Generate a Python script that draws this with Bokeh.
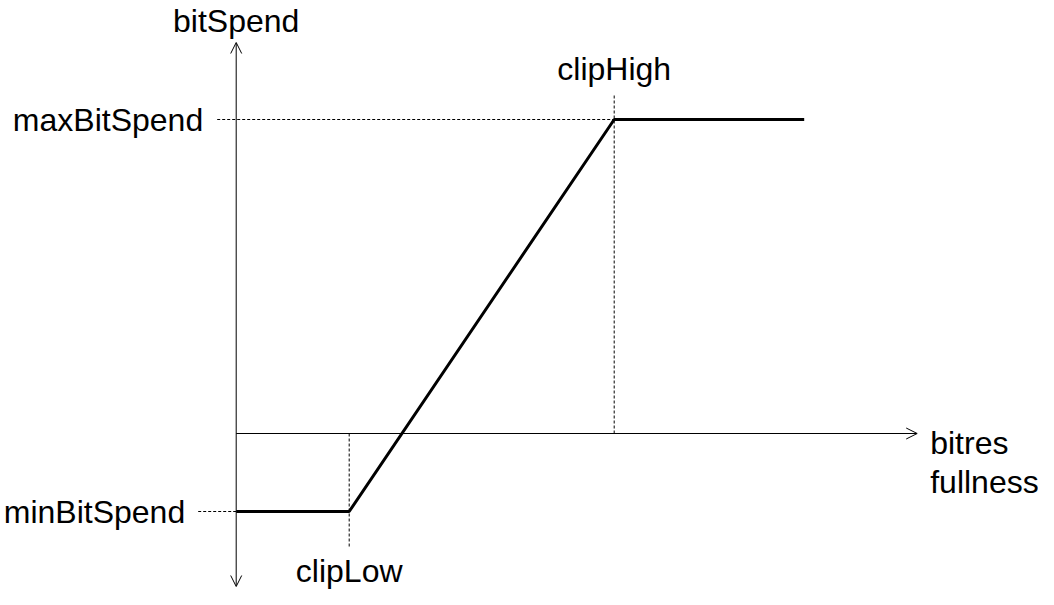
from bokeh.plotting import figure
from bokeh.models import Range1d, Arrow, OpenHead, ColumnDataSource
from bokeh.core.properties import value
from bokeh.embed import file_html
from bokeh.resources import INLINE

# ---- data (diagram units, origin at the axes crossing) ----
clip_names = ["clipLow", "clipHigh"]
clip_x = [113, 378]
level_names = ["minBitSpend", "maxBitSpend"]
level_y = [-78, 314]
curve_end_x = 568
curve_x = [0, clip_x[0], clip_x[1], curve_end_x]
curve_y = [level_y[0], level_y[0], level_y[1], level_y[1]]
y_axis_label = "bitSpend"
x_axis_label = ["bitres", "fullness"]
y_axis_span = [-153, 391]
x_axis_span = [0, 681]

FONT = value("Liberation Sans")
FS = "32px"

p = figure(width=1038, height=589, output_backend="svg", toolbar_location=None,
           x_range=Range1d(-235.7, 802.3), y_range=Range1d(-156, 433),
           min_border=0, min_border_left=0, min_border_right=0,
           min_border_top=0, min_border_bottom=0)
p.axis.visible = False
p.grid.visible = False
p.outline_line_color = None
p.background_fill_color = "white"

# axes with arrows
p.add_layout(Arrow(x_start=0, y_start=y_axis_span[0], x_end=0, y_end=y_axis_span[1],
                   line_width=1, line_color="black",
                   start=OpenHead(size=11, line_width=1), end=OpenHead(size=11, line_width=1)))
p.add_layout(Arrow(x_start=x_axis_span[0], y_start=0, x_end=x_axis_span[1], y_end=0,
                   line_width=1, line_color="black",
                   end=OpenHead(size=11, line_width=1)))

# dotted guides
dash = "3 2"
p.line([-19, clip_x[1]], [level_y[1], level_y[1]], line_color="black", line_width=1, line_dash=dash)
p.line([-38, 0], [level_y[0], level_y[0]], line_color="black", line_width=1, line_dash=dash)
p.line([clip_x[0], clip_x[0]], [0, -114], line_color="black", line_width=1, line_dash=dash)
p.line([clip_x[1], clip_x[1]], [0, 339], line_color="black", line_width=1, line_dash=dash)

# curve
p.line(curve_x, curve_y, line_color="black", line_width=3)

# level labels
lsrc = ColumnDataSource(dict(x=[0, 0], y=level_y, t=level_names, xo=[-51, -33]))
p.text(x="x", y="y", text="t", x_offset="xo", source=lsrc,
       text_align="right", text_baseline="middle",
       text_font=FONT, text_font_size=FS, text_color="black")

# clip labels
csrc = ColumnDataSource(dict(x=clip_x, y=[-137, 365], t=clip_names))
p.text(x="x", y="y", text="t", source=csrc, text_align="center", text_baseline="middle",
       text_font=FONT, text_font_size=FS, text_color="black")

# axis labels
p.text(x=[0], y=[413], text=[y_axis_label], text_align="center", text_baseline="middle",
       text_font=FONT, text_font_size=FS, text_color="black")
p.text(x=[694, 694], y=[-9, -48], text=x_axis_label, text_align="left", text_baseline="middle",
       text_font=FONT, text_font_size=FS, text_color="black")

open("out.html", "w").write(file_html(p, INLINE))
